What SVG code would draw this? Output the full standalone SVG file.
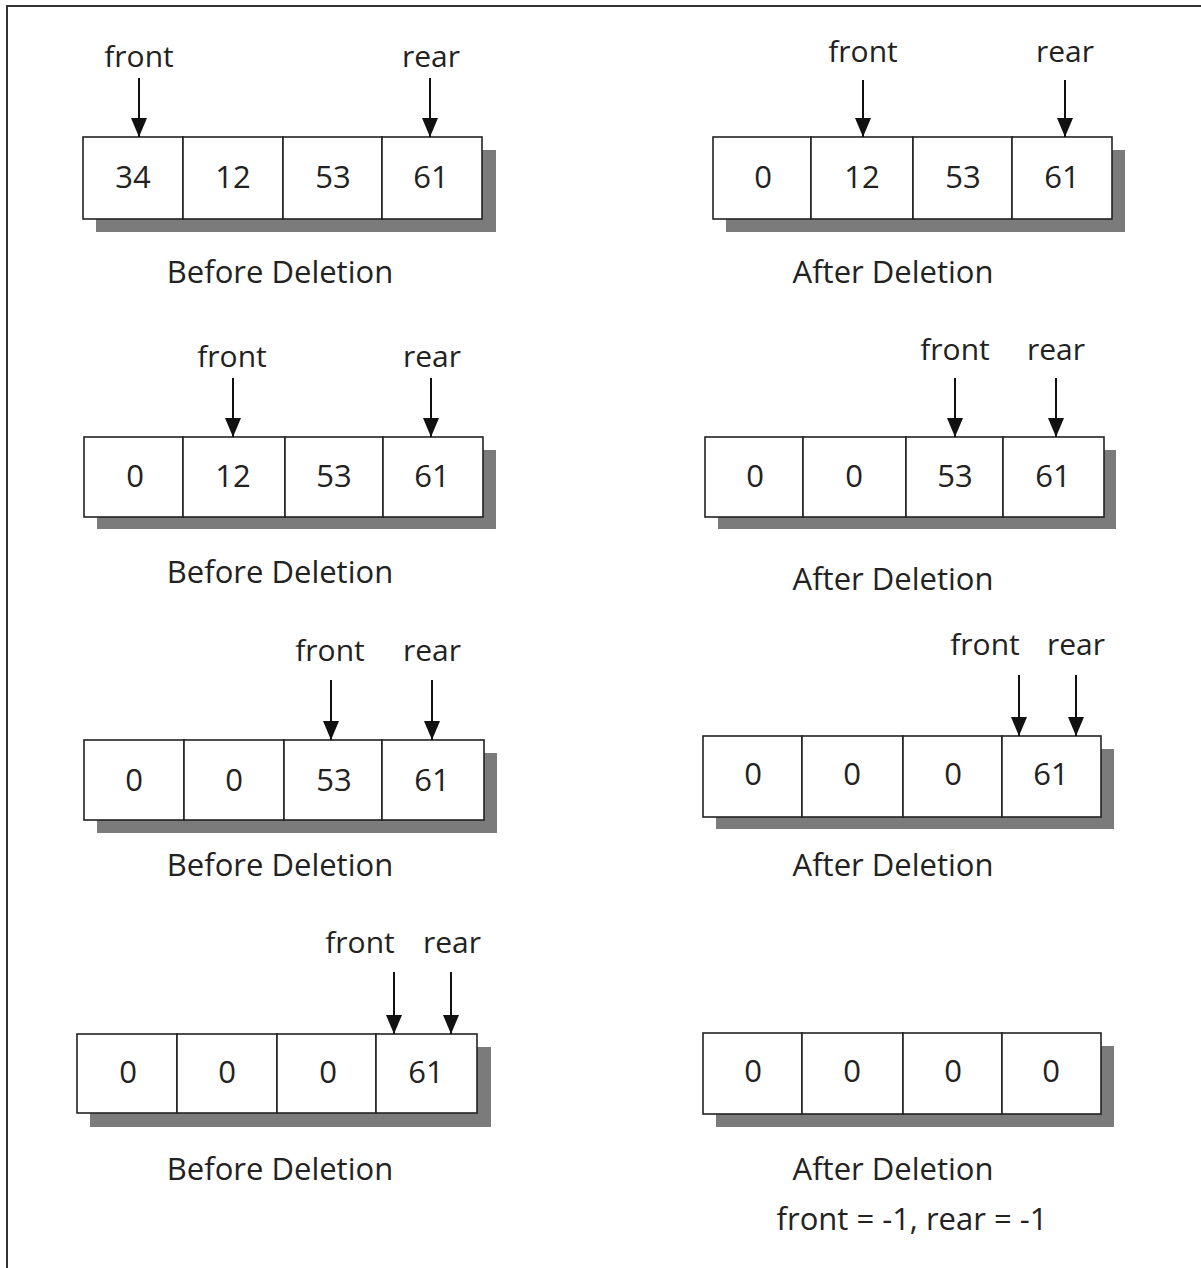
<svg xmlns="http://www.w3.org/2000/svg" width="1201" height="1268" viewBox="0 0 1201 1268">
<defs>
<style>
text{font-family:"Open Sans",Lato,"Liberation Sans",sans-serif;fill:#222;text-anchor:middle;font-weight:500}
.lbl{font-size:30px}
.num{font-size:31px}
.cap{font-size:31px}
.cell{fill:#fff;stroke:#222;stroke-width:1.6}
.shadow{fill:#7b7b7b}
.arrow{stroke:#111;stroke-width:2;fill:none;marker-end:url(#ah)}
</style>
<marker id="ah" markerUnits="userSpaceOnUse" markerWidth="20" markerHeight="18" refX="19" refY="8" orient="auto" viewBox="0 0 20 16">
<path d="M0,0 L19,8 L0,16 z" fill="#111"/>
</marker>
</defs>
<rect width="1201" height="1268" fill="#fff"/>
<path d="M7,1268 L7,6 L1201,6" fill="none" stroke="#333" stroke-width="2"/>

<g id="arr1">
<rect class="shadow" x="96" y="150" width="400" height="82"/>
<rect class="cell" x="83" y="137" width="100" height="82"/>
<rect class="cell" x="183" y="137" width="100" height="82"/>
<rect class="cell" x="283" y="137" width="99" height="82"/>
<rect class="cell" x="382" y="137" width="100" height="82"/>
<text class="num" x="133" y="188">34</text>
<text class="num" x="233" y="188">12</text>
<text class="num" x="333" y="188">53</text>
<text class="num" x="431" y="188">61</text>
<text class="lbl" x="139" y="67">front</text>
<text class="lbl" x="431" y="67">rear</text>
<text class="cap" x="280" y="283">Before Deletion</text>
</g>

<g id="arr2">
<rect class="shadow" x="726" y="150" width="399" height="82"/>
<rect class="cell" x="713" y="137" width="98" height="82"/>
<rect class="cell" x="811" y="137" width="102" height="82"/>
<rect class="cell" x="913" y="137" width="99" height="82"/>
<rect class="cell" x="1012" y="137" width="100" height="82"/>
<text class="num" x="763" y="188">0</text>
<text class="num" x="862" y="188">12</text>
<text class="num" x="963" y="188">53</text>
<text class="num" x="1062" y="188">61</text>
<text class="lbl" x="863" y="62">front</text>
<text class="lbl" x="1065" y="62">rear</text>
<text class="cap" x="893" y="283">After Deletion</text>
</g>

<g id="arr3">
<rect class="shadow" x="97" y="450" width="399" height="79"/>
<rect class="cell" x="84" y="437" width="99" height="80"/>
<rect class="cell" x="183" y="437" width="102" height="80"/>
<rect class="cell" x="285" y="437" width="98" height="80"/>
<rect class="cell" x="383" y="437" width="100" height="80"/>
<text class="num" x="135" y="487">0</text>
<text class="num" x="233" y="487">12</text>
<text class="num" x="334" y="487">53</text>
<text class="num" x="432" y="487">61</text>
<text class="lbl" x="232" y="367">front</text>
<text class="lbl" x="432" y="367">rear</text>
<text class="cap" x="280" y="583">Before Deletion</text>
</g>

<g id="arr4">
<rect class="shadow" x="718" y="450" width="398" height="79"/>
<rect class="cell" x="705" y="437" width="98" height="80"/>
<rect class="cell" x="803" y="437" width="103" height="80"/>
<rect class="cell" x="906" y="437" width="97" height="80"/>
<rect class="cell" x="1003" y="437" width="101" height="80"/>
<text class="num" x="755" y="487">0</text>
<text class="num" x="854" y="487">0</text>
<text class="num" x="955" y="487">53</text>
<text class="num" x="1053" y="487">61</text>
<text class="lbl" x="955" y="360">front</text>
<text class="lbl" x="1056" y="360">rear</text>
<text class="cap" x="893" y="590">After Deletion</text>
</g>

<g id="arr5">
<rect class="shadow" x="97" y="753" width="400" height="80"/>
<rect class="cell" x="84" y="740" width="100" height="80"/>
<rect class="cell" x="184" y="740" width="100" height="80"/>
<rect class="cell" x="284" y="740" width="98" height="80"/>
<rect class="cell" x="382" y="740" width="102" height="80"/>
<text class="num" x="134" y="791">0</text>
<text class="num" x="234" y="791">0</text>
<text class="num" x="334" y="791">53</text>
<text class="num" x="432" y="791">61</text>
<text class="lbl" x="330" y="661">front</text>
<text class="lbl" x="432" y="661">rear</text>
<text class="cap" x="280" y="876">Before Deletion</text>
</g>

<g id="arr6">
<rect class="shadow" x="716" y="749" width="398" height="80"/>
<rect class="cell" x="703" y="736" width="99" height="81"/>
<rect class="cell" x="802" y="736" width="101" height="81"/>
<rect class="cell" x="903" y="736" width="99" height="81"/>
<rect class="cell" x="1002" y="736" width="99" height="81"/>
<text class="num" x="753" y="785">0</text>
<text class="num" x="852" y="785">0</text>
<text class="num" x="953" y="785">0</text>
<text class="num" x="1051" y="785">61</text>
<text class="lbl" x="985" y="655">front</text>
<text class="lbl" x="1076" y="655">rear</text>
<text class="cap" x="893" y="876">After Deletion</text>
</g>

<g id="arr7">
<rect class="shadow" x="90" y="1047" width="401" height="80"/>
<rect class="cell" x="77" y="1034" width="100" height="79"/>
<rect class="cell" x="177" y="1034" width="100" height="79"/>
<rect class="cell" x="277" y="1034" width="99" height="79"/>
<rect class="cell" x="376" y="1034" width="101" height="79"/>
<text class="num" x="128" y="1083">0</text>
<text class="num" x="227" y="1083">0</text>
<text class="num" x="328" y="1083">0</text>
<text class="num" x="426" y="1083">61</text>
<text class="lbl" x="360" y="953">front</text>
<text class="lbl" x="452" y="953">rear</text>
<text class="cap" x="280" y="1180">Before Deletion</text>
</g>

<g id="arr8">
<rect class="shadow" x="716" y="1046" width="398" height="81"/>
<rect class="cell" x="703" y="1033" width="99" height="81"/>
<rect class="cell" x="802" y="1033" width="101" height="81"/>
<rect class="cell" x="903" y="1033" width="99" height="81"/>
<rect class="cell" x="1002" y="1033" width="99" height="81"/>
<text class="num" x="753" y="1082">0</text>
<text class="num" x="852" y="1082">0</text>
<text class="num" x="953" y="1082">0</text>
<text class="num" x="1051" y="1082">0</text>
<text class="cap" x="893" y="1180">After Deletion</text>
<text class="cap" x="912" y="1230">front = -1, rear = -1</text>
</g>

<g id="connectors">
<line class="arrow" x1="139" y1="78" x2="139" y2="137"/>
<line class="arrow" x1="430" y1="78" x2="430" y2="137"/>
<line class="arrow" x1="863" y1="80" x2="863" y2="137"/>
<line class="arrow" x1="1065" y1="80" x2="1065" y2="137"/>
<line class="arrow" x1="233" y1="378" x2="233" y2="437"/>
<line class="arrow" x1="431" y1="378" x2="431" y2="437"/>
<line class="arrow" x1="955" y1="378" x2="955" y2="437"/>
<line class="arrow" x1="1056" y1="378" x2="1056" y2="437"/>
<line class="arrow" x1="331" y1="680" x2="331" y2="740"/>
<line class="arrow" x1="432" y1="680" x2="432" y2="740"/>
<line class="arrow" x1="1019" y1="675" x2="1019" y2="736"/>
<line class="arrow" x1="1076" y1="675" x2="1076" y2="736"/>
<line class="arrow" x1="394" y1="972" x2="394" y2="1034"/>
<line class="arrow" x1="451" y1="972" x2="451" y2="1034"/>
</g>
</svg>
